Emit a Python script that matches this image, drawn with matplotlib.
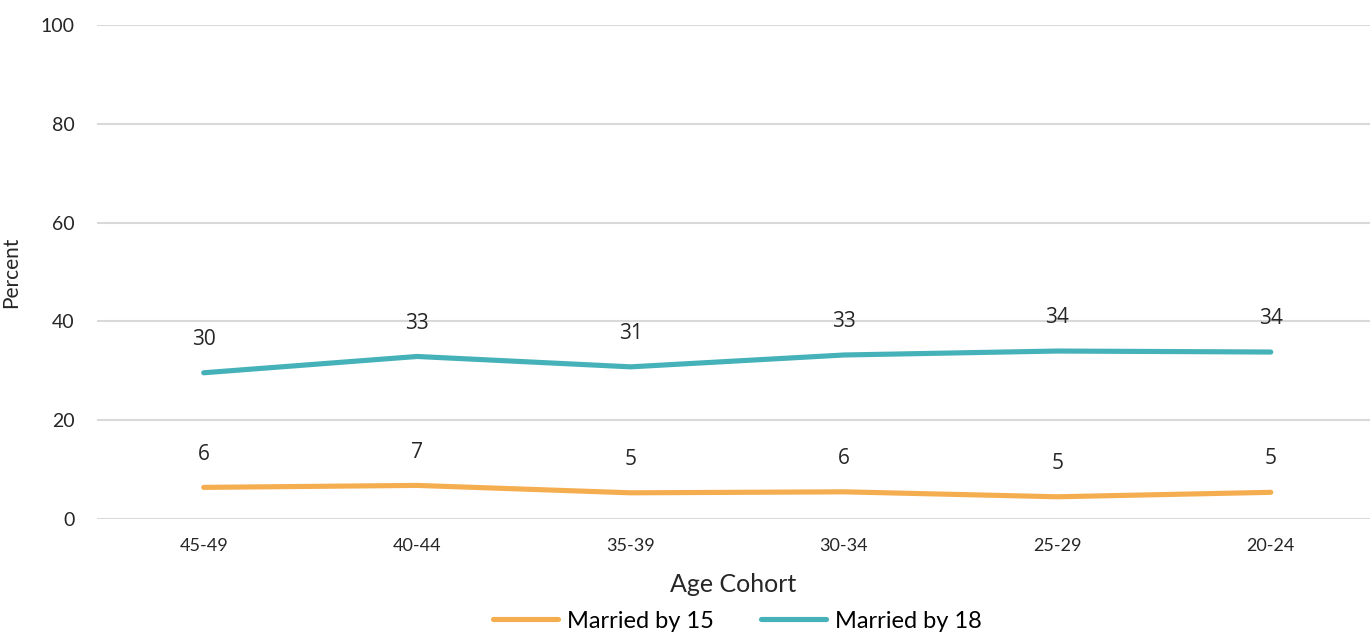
import matplotlib
matplotlib.use("Agg")
import matplotlib.pyplot as plt

categories = ["45-49", "40-44", "35-39", "30-34", "25-29", "20-24"]
married_by_15 = [6.4, 6.8, 5.3, 5.5, 4.5, 5.4]
married_by_18 = [29.6, 32.9, 30.8, 33.2, 34.0, 33.8]
labels_15 = ["6", "7", "5", "6", "5", "5"]
labels_18 = ["30", "33", "31", "33", "34", "34"]
yticks = [0, 20, 40, 60, 80, 100]

W, H = 1370, 632
fig = plt.figure(figsize=(W / 100, H / 100), dpi=100)
ax = fig.add_axes([97 / W, 1 - 519 / H, (W - 97) / W, (519 - 25) / H])

x = list(range(len(categories)))
c15 = "#F4AE4F"
c18 = "#45B1B9"
l15, = ax.plot(x, married_by_15, color=c15, lw=3.7, solid_capstyle="round", label="Married by 15", zorder=3)
l18, = ax.plot(x, married_by_18, color=c18, lw=3.7, solid_capstyle="round", label="Married by 18", zorder=3)

for xi, v, t in zip(x, married_by_15, labels_15):
    ax.annotate(t, (xi, v), xytext=(0, 24), textcoords="offset points", ha="center", va="center",
                fontsize=15, family="Open Sans", color="#262626")
for xi, v, t in zip(x, married_by_18, labels_18):
    ax.annotate(t, (xi, v), xytext=(0, 24), textcoords="offset points", ha="center", va="center",
                fontsize=15, family="Open Sans", color="#262626")

ax.set_xlim(-0.5, 5.465)
ax.set_ylim(0, 100)
ax.set_yticks(yticks)
ax.set_xticks(x)
ax.set_xticklabels(categories, family="Lato", fontsize=13, color="#262626")
ax.set_yticklabels([str(v) for v in yticks], family="Lato", fontsize=14, color="#262626")
ax.tick_params(axis="both", length=0)
ax.tick_params(axis="x", pad=14)
ax.tick_params(axis="y", pad=16)
ax.grid(axis="y", color="#D9D9D9", lw=1.5)
ax.set_axisbelow(True)
for s in ax.spines.values():
    s.set_visible(False)

ax.set_xlabel("Age Cohort", family="Lato", fontsize=18, color="#262626", labelpad=13)
ax.set_ylabel("Percent", family="Lato", fontsize=15, color="#262626", labelpad=14)

fig.legend(handles=[l15, l18], loc="center", bbox_to_anchor=(0.538, 1 - 621 / H), ncol=2,
           frameon=False, prop={"family": "Lato", "size": 17}, handlelength=2.75,
           columnspacing=2.0, handletextpad=0.38)

fig.savefig("out.png", dpi=100)
